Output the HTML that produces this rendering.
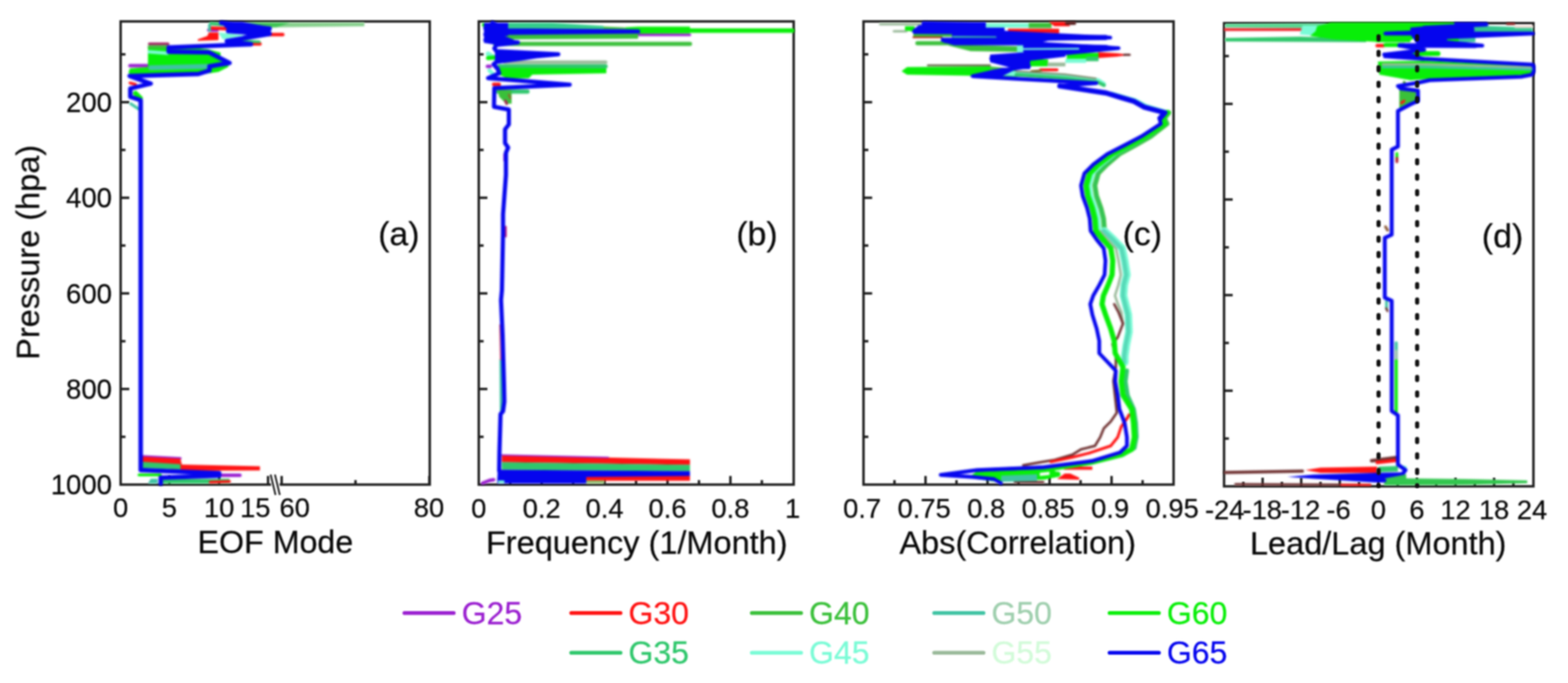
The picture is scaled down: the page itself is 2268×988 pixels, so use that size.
<!DOCTYPE html>
<html lang="en">
<head>
<meta charset="utf-8">
<title>Vertical profiles: EOF mode, frequency, correlation, lead/lag</title>
<style>
html,body{margin:0;padding:0;background:#ffffff;}
body{width:2268px;height:988px;overflow:hidden;font-family:"Liberation Sans",sans-serif;}
svg{display:block;}
text{stroke-width:0.3px;paint-order:stroke;}
</style>
</head>
<body>
<svg width="2268" height="988" viewBox="0 0 2268 988" font-family="'Liberation Sans', sans-serif">
<defs>
<clipPath id="clipa"><rect x="173.0" y="29.5" width="451.6" height="673"/></clipPath>
<clipPath id="clipb"><rect x="691.0" y="29.5" width="460.0" height="673"/></clipPath>
<clipPath id="clipc"><rect x="1247.5" y="29.5" width="453.0" height="673"/></clipPath>
<clipPath id="clipd"><rect x="1769.0" y="32.0" width="452.0" height="673.0"/></clipPath>
<filter id="bA" x="-2%" y="-2%" width="104%" height="104%" color-interpolation-filters="sRGB"><feGaussianBlur stdDeviation="1.0"/></filter>
<filter id="bB" x="-2%" y="-2%" width="104%" height="104%" color-interpolation-filters="sRGB"><feGaussianBlur stdDeviation="1.6"/></filter>
</defs>
<rect width="2268" height="988" fill="#ffffff"/>
<g id="axes" filter="url(#bA)">
<rect x="174.5" y="31" width="447.1" height="670" fill="none" stroke="#1d1d1d" stroke-width="3.5"/>
<line x1="174.5" y1="78.6" x2="181.5" y2="78.6" stroke="#1d1d1d" stroke-width="3.5"/>
<line x1="174.5" y1="147.8" x2="187.0" y2="147.8" stroke="#1d1d1d" stroke-width="3.5"/>
<line x1="174.5" y1="216.9" x2="181.5" y2="216.9" stroke="#1d1d1d" stroke-width="3.5"/>
<line x1="174.5" y1="286.1" x2="187.0" y2="286.1" stroke="#1d1d1d" stroke-width="3.5"/>
<line x1="174.5" y1="355.2" x2="181.5" y2="355.2" stroke="#1d1d1d" stroke-width="3.5"/>
<line x1="174.5" y1="424.4" x2="187.0" y2="424.4" stroke="#1d1d1d" stroke-width="3.5"/>
<line x1="174.5" y1="493.6" x2="181.5" y2="493.6" stroke="#1d1d1d" stroke-width="3.5"/>
<line x1="174.5" y1="562.7" x2="187.0" y2="562.7" stroke="#1d1d1d" stroke-width="3.5"/>
<line x1="174.5" y1="631.9" x2="181.5" y2="631.9" stroke="#1d1d1d" stroke-width="3.5"/>
<rect x="692.5" y="31" width="455.5" height="670" fill="none" stroke="#1d1d1d" stroke-width="3.5"/>
<line x1="692.5" y1="78.6" x2="699.5" y2="78.6" stroke="#1d1d1d" stroke-width="3.5"/>
<line x1="692.5" y1="147.8" x2="705.0" y2="147.8" stroke="#1d1d1d" stroke-width="3.5"/>
<line x1="692.5" y1="216.9" x2="699.5" y2="216.9" stroke="#1d1d1d" stroke-width="3.5"/>
<line x1="692.5" y1="286.1" x2="705.0" y2="286.1" stroke="#1d1d1d" stroke-width="3.5"/>
<line x1="692.5" y1="355.2" x2="699.5" y2="355.2" stroke="#1d1d1d" stroke-width="3.5"/>
<line x1="692.5" y1="424.4" x2="705.0" y2="424.4" stroke="#1d1d1d" stroke-width="3.5"/>
<line x1="692.5" y1="493.6" x2="699.5" y2="493.6" stroke="#1d1d1d" stroke-width="3.5"/>
<line x1="692.5" y1="562.7" x2="705.0" y2="562.7" stroke="#1d1d1d" stroke-width="3.5"/>
<line x1="692.5" y1="631.9" x2="699.5" y2="631.9" stroke="#1d1d1d" stroke-width="3.5"/>
<rect x="1249" y="31" width="448.5" height="670" fill="none" stroke="#1d1d1d" stroke-width="3.5"/>
<line x1="1249" y1="78.6" x2="1256" y2="78.6" stroke="#1d1d1d" stroke-width="3.5"/>
<line x1="1249" y1="147.8" x2="1261.5" y2="147.8" stroke="#1d1d1d" stroke-width="3.5"/>
<line x1="1249" y1="216.9" x2="1256" y2="216.9" stroke="#1d1d1d" stroke-width="3.5"/>
<line x1="1249" y1="286.1" x2="1261.5" y2="286.1" stroke="#1d1d1d" stroke-width="3.5"/>
<line x1="1249" y1="355.2" x2="1256" y2="355.2" stroke="#1d1d1d" stroke-width="3.5"/>
<line x1="1249" y1="424.4" x2="1261.5" y2="424.4" stroke="#1d1d1d" stroke-width="3.5"/>
<line x1="1249" y1="493.6" x2="1256" y2="493.6" stroke="#1d1d1d" stroke-width="3.5"/>
<line x1="1249" y1="562.7" x2="1261.5" y2="562.7" stroke="#1d1d1d" stroke-width="3.5"/>
<line x1="1249" y1="631.9" x2="1256" y2="631.9" stroke="#1d1d1d" stroke-width="3.5"/>
<rect x="1770.5" y="33.5" width="447.5" height="670.0" fill="none" stroke="#1d1d1d" stroke-width="3.5"/>
<line x1="1770.5" y1="81.1" x2="1777.5" y2="81.1" stroke="#1d1d1d" stroke-width="3.5"/>
<line x1="1770.5" y1="150.3" x2="1783.0" y2="150.3" stroke="#1d1d1d" stroke-width="3.5"/>
<line x1="1770.5" y1="219.4" x2="1777.5" y2="219.4" stroke="#1d1d1d" stroke-width="3.5"/>
<line x1="1770.5" y1="288.6" x2="1783.0" y2="288.6" stroke="#1d1d1d" stroke-width="3.5"/>
<line x1="1770.5" y1="357.8" x2="1777.5" y2="357.8" stroke="#1d1d1d" stroke-width="3.5"/>
<line x1="1770.5" y1="426.9" x2="1783.0" y2="426.9" stroke="#1d1d1d" stroke-width="3.5"/>
<line x1="1770.5" y1="496.1" x2="1777.5" y2="496.1" stroke="#1d1d1d" stroke-width="3.5"/>
<line x1="1770.5" y1="565.2" x2="1783.0" y2="565.2" stroke="#1d1d1d" stroke-width="3.5"/>
<line x1="1770.5" y1="634.4" x2="1777.5" y2="634.4" stroke="#1d1d1d" stroke-width="3.5"/>
<line x1="245.0" y1="701" x2="245.0" y2="688.5" stroke="#1d1d1d" stroke-width="3.5"/>
<line x1="317.0" y1="701" x2="317.0" y2="688.5" stroke="#1d1d1d" stroke-width="3.5"/>
<line x1="387.7" y1="701" x2="387.7" y2="688.5" stroke="#1d1d1d" stroke-width="3.5"/>
<line x1="407.4" y1="701" x2="407.4" y2="688.5" stroke="#1d1d1d" stroke-width="3.5"/>
<line x1="621.0" y1="701" x2="621.0" y2="688.5" stroke="#1d1d1d" stroke-width="3.5"/>
<line x1="514.2" y1="701" x2="514.2" y2="694.5" stroke="#1d1d1d" stroke-width="3.5"/>
<polygon points="390.5,686.5 403,686.5 406,716 393.5,716" fill="#ffffff"/>
<line x1="391.5" y1="686.5" x2="398.5" y2="716" stroke="#1d1d1d" stroke-width="2.6"/>
<line x1="397.7" y1="686.5" x2="404.7" y2="716" stroke="#1d1d1d" stroke-width="2.6"/>
<line x1="738.0" y1="701" x2="738.0" y2="694.5" stroke="#1d1d1d" stroke-width="3.5"/>
<line x1="783.5" y1="701" x2="783.5" y2="688.5" stroke="#1d1d1d" stroke-width="3.5"/>
<line x1="829.0" y1="701" x2="829.0" y2="694.5" stroke="#1d1d1d" stroke-width="3.5"/>
<line x1="874.5" y1="701" x2="874.5" y2="688.5" stroke="#1d1d1d" stroke-width="3.5"/>
<line x1="920.0" y1="701" x2="920.0" y2="694.5" stroke="#1d1d1d" stroke-width="3.5"/>
<line x1="965.5" y1="701" x2="965.5" y2="688.5" stroke="#1d1d1d" stroke-width="3.5"/>
<line x1="1011.0" y1="701" x2="1011.0" y2="694.5" stroke="#1d1d1d" stroke-width="3.5"/>
<line x1="1056.5" y1="701" x2="1056.5" y2="688.5" stroke="#1d1d1d" stroke-width="3.5"/>
<line x1="1102.0" y1="701" x2="1102.0" y2="694.5" stroke="#1d1d1d" stroke-width="3.5"/>
<line x1="1293.8" y1="701" x2="1293.8" y2="694.5" stroke="#1d1d1d" stroke-width="3.5"/>
<line x1="1338.7" y1="701" x2="1338.7" y2="688.5" stroke="#1d1d1d" stroke-width="3.5"/>
<line x1="1383.5" y1="701" x2="1383.5" y2="694.5" stroke="#1d1d1d" stroke-width="3.5"/>
<line x1="1428.4" y1="701" x2="1428.4" y2="688.5" stroke="#1d1d1d" stroke-width="3.5"/>
<line x1="1473.2" y1="701" x2="1473.2" y2="694.5" stroke="#1d1d1d" stroke-width="3.5"/>
<line x1="1518.1" y1="701" x2="1518.1" y2="688.5" stroke="#1d1d1d" stroke-width="3.5"/>
<line x1="1563.0" y1="701" x2="1563.0" y2="694.5" stroke="#1d1d1d" stroke-width="3.5"/>
<line x1="1607.8" y1="701" x2="1607.8" y2="688.5" stroke="#1d1d1d" stroke-width="3.5"/>
<line x1="1652.7" y1="701" x2="1652.7" y2="694.5" stroke="#1d1d1d" stroke-width="3.5"/>
<line x1="1798.4" y1="703.5" x2="1798.4" y2="697.0" stroke="#1d1d1d" stroke-width="3.5"/>
<line x1="1826.3" y1="703.5" x2="1826.3" y2="691.0" stroke="#1d1d1d" stroke-width="3.5"/>
<line x1="1854.2" y1="703.5" x2="1854.2" y2="697.0" stroke="#1d1d1d" stroke-width="3.5"/>
<line x1="1882.1" y1="703.5" x2="1882.1" y2="691.0" stroke="#1d1d1d" stroke-width="3.5"/>
<line x1="1910.0" y1="703.5" x2="1910.0" y2="697.0" stroke="#1d1d1d" stroke-width="3.5"/>
<line x1="1937.9" y1="703.5" x2="1937.9" y2="691.0" stroke="#1d1d1d" stroke-width="3.5"/>
<line x1="1965.8" y1="703.5" x2="1965.8" y2="697.0" stroke="#1d1d1d" stroke-width="3.5"/>
<line x1="1993.7" y1="703.5" x2="1993.7" y2="691.0" stroke="#1d1d1d" stroke-width="3.5"/>
<line x1="2021.6" y1="703.5" x2="2021.6" y2="697.0" stroke="#1d1d1d" stroke-width="3.5"/>
<line x1="2049.5" y1="703.5" x2="2049.5" y2="691.0" stroke="#1d1d1d" stroke-width="3.5"/>
<line x1="2077.4" y1="703.5" x2="2077.4" y2="697.0" stroke="#1d1d1d" stroke-width="3.5"/>
<line x1="2105.3" y1="703.5" x2="2105.3" y2="691.0" stroke="#1d1d1d" stroke-width="3.5"/>
<line x1="2133.2" y1="703.5" x2="2133.2" y2="697.0" stroke="#1d1d1d" stroke-width="3.5"/>
<line x1="2161.1" y1="703.5" x2="2161.1" y2="691.0" stroke="#1d1d1d" stroke-width="3.5"/>
<line x1="2189.0" y1="703.5" x2="2189.0" y2="697.0" stroke="#1d1d1d" stroke-width="3.5"/>
</g>
<g id="curves" filter="url(#bB)">
<g clip-path="url(#clipa)">
<polygon points="338.0,32.5 527.0,32.5 527.0,38.0 440.0,39.0 338.0,40.5" fill="#86d08c" />
<polygon points="338.0,32.5 420.0,32.5 400.0,39.5 338.0,40.5" fill="#40c455" />
<polyline points="188.0,95.0 214.0,95.0" fill="none" stroke="#9a1fd0" stroke-width="5" stroke-linejoin="round" stroke-linecap="round" />
<polyline points="302.0,43.5 314.0,43.5" fill="none" stroke="#9a1fd0" stroke-width="5" stroke-linejoin="round" stroke-linecap="round" />
<polyline points="216.0,63.5 243.0,63.5" fill="none" stroke="#a02060" stroke-width="4" stroke-linejoin="round" stroke-linecap="round" />
<polygon points="286.0,57.0 300.0,52.0 302.0,47.0 316.0,47.0 316.0,58.0 286.0,59.0" fill="#ff1212" />
<polyline points="304.0,40.5 328.0,41.5" fill="none" stroke="#ff1212" stroke-width="5" stroke-linejoin="round" stroke-linecap="round" />
<polyline points="360.0,63.5 376.0,63.5" fill="none" stroke="#ff1212" stroke-width="5" stroke-linejoin="round" stroke-linecap="round" />
<polyline points="385.0,50.0 409.0,50.0" fill="none" stroke="#ff1212" stroke-width="5" stroke-linejoin="round" stroke-linecap="round" />
<polyline points="188.0,120.0 196.0,122.0" fill="none" stroke="#ff1212" stroke-width="4" stroke-linejoin="round" stroke-linecap="round" />
<polygon points="215.0,66.0 243.0,66.0 300.0,71.0 319.0,76.0 319.0,82.0 332.0,91.0 330.0,97.0 316.0,104.0 290.0,108.0 188.0,111.0 186.0,104.0 188.0,99.0 214.0,97.0 214.0,70.0" fill="#08ee08" />
<polyline points="216.0,68.0 244.0,68.0" fill="none" stroke="#3ac03a" stroke-width="5" stroke-linejoin="round" stroke-linecap="round" />
<polyline points="216.0,75.0 242.0,77.0" fill="none" stroke="#7afbd6" stroke-width="5" stroke-linejoin="round" stroke-linecap="round" />
<polyline points="218.0,98.0 300.0,96.0" fill="none" stroke="#3fc3a3" stroke-width="7" stroke-linejoin="round" stroke-linecap="round" />
<polyline points="305.0,34.0 330.0,36.0" fill="none" stroke="#2fc76c" stroke-width="5" stroke-linejoin="round" stroke-linecap="round" />
<polyline points="303.0,36.0 303.0,44.0" fill="none" stroke="#3fc3a3" stroke-width="4" stroke-linejoin="round" stroke-linecap="round" />
<polygon points="316.0,47.0 357.0,51.0 322.0,57.0" fill="#7afbd6" />
<polyline points="345.0,59.0 375.0,60.5" fill="none" stroke="#2fc76c" stroke-width="4" stroke-linejoin="round" stroke-linecap="round" />
<polyline points="196.0,135.0 203.0,142.0" fill="none" stroke="#08ee08" stroke-width="7" stroke-linejoin="round" stroke-linecap="round" />
<polyline points="189.0,150.0 201.0,158.0" fill="none" stroke="#3fc3a3" stroke-width="4" stroke-linejoin="round" stroke-linecap="round" />
<polyline points="204.0,660.0 261.0,663.0" fill="none" stroke="#9a1fd0" stroke-width="3.5" stroke-linejoin="round" stroke-linecap="round" />
<polyline points="318.0,687.5 347.0,687.5" fill="none" stroke="#9a1fd0" stroke-width="5" stroke-linejoin="round" stroke-linecap="round" />
<polygon points="204.0,660.5 261.0,663.5 263.0,672.0 376.0,674.5 376.0,680.5 262.0,681.0 204.0,672.0" fill="#ff1212" />
<polygon points="205.0,668.0 261.0,671.5 261.0,679.0 205.0,677.0" fill="#2fc76c" />
<polyline points="201.0,687.0 232.0,687.0" fill="none" stroke="#08ee08" stroke-width="4" stroke-linejoin="round" stroke-linecap="round" />
<polygon points="214.0,699.5 218.0,692.5 228.0,692.5 228.0,699.5" fill="#3fc3a3" />
<polygon points="234.0,693.0 332.0,692.5 332.0,699.5 234.0,699.5" fill="#2fc76c" />
<polyline points="304.0,697.5 332.0,696.5" fill="none" stroke="#ff1212" stroke-width="4" stroke-linejoin="round" stroke-linecap="round" />
<polyline points="320.0,33.0 390.0,41.5 330.0,45.0 390.0,49.0 328.0,59.5 363.0,64.0 244.0,68.6 244.0,74.7 302.0,75.7 332.0,91.0 303.0,96.0 303.0,102.0 287.0,107.0 187.5,110.0 218.0,121.0 188.5,128.0 188.5,140.0 203.5,145.0 203.5,680.0 317.0,684.5 317.0,688.0 232.5,691.0 232.5,700.0" fill="none" stroke="#0505ee" stroke-width="6.4" stroke-linejoin="round" stroke-linecap="round" />
<polygon points="318.0,31.5 350.0,31.5 390.0,39.0 392.0,45.0 388.0,51.0 350.0,52.0 357.0,50.0 334.0,46.0 326.0,40.0" fill="#0505ee" />
</g>
<g clip-path="url(#clipb)">
<polygon points="700.0,33.0 740.0,33.0 900.0,39.5 923.0,41.0 923.0,56.0 700.0,56.0" fill="#3ac03a" />
<polygon points="734.0,33.0 800.0,33.0 873.0,37.5 873.0,41.5 734.0,41.5" fill="#34cd8c" />
<polygon points="905.0,39.5 923.0,38.5 998.0,38.5 998.0,48.5 923.0,49.0 905.0,46.0" fill="#08ee08" />
<polyline points="998.0,44.3 1146.0,44.3" fill="none" stroke="#08ee08" stroke-width="6.6" stroke-linejoin="round" stroke-linecap="round" />
<polyline points="923.0,50.5 998.0,50.5" fill="none" stroke="#9a1fd0" stroke-width="3.5" stroke-linejoin="round" stroke-linecap="round" />
<polygon points="726.0,48.0 923.0,49.0 923.0,56.0 726.0,57.0" fill="#3ac03a" />
<polyline points="716.0,63.5 998.0,63.5" fill="none" stroke="#3ac03a" stroke-width="6" stroke-linejoin="round" stroke-linecap="round" />
<polyline points="700.0,36.0 706.0,40.0" fill="none" stroke="#08ee08" stroke-width="6" stroke-linejoin="round" stroke-linecap="round" />
<polyline points="730.0,90.0 876.0,90.0" fill="none" stroke="#9ab99a" stroke-width="5" stroke-linejoin="round" stroke-linecap="round" />
<polyline points="722.0,96.0 876.0,96.0" fill="none" stroke="#2fc76c" stroke-width="6" stroke-linejoin="round" stroke-linecap="round" />
<polygon points="722.0,98.0 877.0,99.0 877.0,106.0 770.0,108.0 765.0,113.0 735.0,114.0 722.0,108.0" fill="#08ee08" />
<polyline points="705.0,96.0 709.0,96.0" fill="none" stroke="#9a1fd0" stroke-width="5" stroke-linejoin="round" stroke-linecap="round" />
<polyline points="706.0,78.0 716.0,84.0" fill="none" stroke="#7afbd6" stroke-width="7" stroke-linejoin="round" stroke-linecap="round" />
<polyline points="706.0,84.0 730.0,82.0" fill="none" stroke="#08ee08" stroke-width="6" stroke-linejoin="round" stroke-linecap="round" />
<polyline points="708.0,102.0 714.0,108.0" fill="none" stroke="#7afbd6" stroke-width="6" stroke-linejoin="round" stroke-linecap="round" />
<polyline points="714.0,122.0 722.0,122.0" fill="none" stroke="#ff1212" stroke-width="5" stroke-linejoin="round" stroke-linecap="round" />
<polyline points="720.0,132.5 763.0,132.5" fill="none" stroke="#2fc76c" stroke-width="6" stroke-linejoin="round" stroke-linecap="round" />
<polygon points="720.0,130.0 740.0,130.0 740.0,150.0 732.0,150.0 722.0,140.0" fill="#3ac03a" />
<polyline points="731.0,146.0 733.0,150.0" fill="none" stroke="#a03050" stroke-width="4" stroke-linejoin="round" stroke-linecap="round" />
<polyline points="736.0,137.0 738.0,142.0" fill="none" stroke="#8a6a30" stroke-width="3" stroke-linejoin="round" stroke-linecap="round" />
<polyline points="729.5,223.0 729.5,232.0" fill="none" stroke="#9a1fd0" stroke-width="3" stroke-linejoin="round" stroke-linecap="round" />
<polyline points="733.0,222.0 733.0,232.0" fill="none" stroke="#7afbd6" stroke-width="3" stroke-linejoin="round" stroke-linecap="round" />
<polyline points="731.5,328.0 731.5,342.0" fill="none" stroke="#c0207a" stroke-width="3" stroke-linejoin="round" stroke-linecap="round" />
<polyline points="724.5,520.0 725.0,596.0" fill="none" stroke="#3fc3a3" stroke-width="4" stroke-linejoin="round" stroke-linecap="round" />
<polyline points="723.0,470.0 724.0,520.0" fill="none" stroke="#e06070" stroke-width="2" stroke-linejoin="round" stroke-linecap="round" />
<polygon points="726.0,658.3 998.0,664.5 998.0,672.5 726.0,668.5" fill="#ff1212" />
<polyline points="726.0,658.3 880.0,661.8" fill="none" stroke="#9a1fd0" stroke-width="2" stroke-linejoin="round" stroke-linecap="round" />
<polygon points="726.0,668.5 998.0,672.5 998.0,681.5 726.0,679.5" fill="#2fc76c" />
<polygon points="848.0,688.0 998.0,688.0 998.0,695.5 848.0,695.5" fill="#ff1212" />
<polygon points="848.0,695.0 874.0,695.0 874.0,699.5 848.0,699.5" fill="#8fc070" />
<polyline points="698.0,699.0 708.0,695.0 714.0,694.0" fill="none" stroke="#9a1fd0" stroke-width="5" stroke-linejoin="round" stroke-linecap="round" />
<polygon points="720.0,679.5 998.0,681.5 998.0,688.5 848.0,690.0 848.0,699.5 719.0,699.5" fill="#0505ee" />
<polyline points="722.0,697.0 728.0,697.0" fill="none" stroke="#7afbd6" stroke-width="4" stroke-linejoin="round" stroke-linecap="round" />
<polyline points="712.0,33.0 722.0,37.0 702.0,41.0 735.0,44.0 923.0,45.5 735.0,47.5 702.0,50.0 712.0,55.0 702.0,58.0 749.0,61.5 718.0,65.0 715.0,70.0 718.0,74.0 807.5,78.5 775.0,81.5 755.0,84.5 718.0,89.5 714.0,93.0 720.0,100.0 722.0,106.0 706.0,113.0 824.0,122.5 715.0,127.5 714.5,154.5 736.0,158.5 736.0,180.0 730.5,187.0 730.5,207.0 735.0,213.5 731.8,221.0 731.8,253.0 727.6,310.0 727.6,338.0 726.0,420.0 724.7,434.0 727.0,485.0 729.0,556.0 729.5,581.0 727.6,595.0 724.0,599.0 722.4,655.0 722.0,681.0" fill="none" stroke="#0505ee" stroke-width="6" stroke-linejoin="round" stroke-linecap="round" />
<polygon points="700.0,33.0 735.0,33.0 735.0,52.0 700.0,52.0" fill="#0505ee" />
<polygon points="700.0,52.0 730.0,52.0 749.0,60.0 749.0,63.0 725.0,66.0 700.0,62.0" fill="#0505ee" />
<polygon points="716.0,72.5 760.0,75.5 807.0,77.5 807.0,79.5 760.0,84.0 735.0,87.5 716.0,89.5" fill="#0505ee" />
</g>
<g clip-path="url(#clipc)">
<polyline points="1273.0,35.0 1331.0,35.0" fill="none" stroke="#9ab99a" stroke-width="3.5" stroke-linejoin="round" stroke-linecap="round" />
<polyline points="1293.0,45.3 1311.0,45.3" fill="none" stroke="#9ab99a" stroke-width="3.5" stroke-linejoin="round" stroke-linecap="round" />
<polygon points="1309.0,38.0 1323.0,38.0 1323.0,46.0 1309.0,44.0" fill="#08ee08" />
<polygon points="1426.0,33.5 1490.0,33.5 1490.0,40.0 1426.0,40.0" fill="#7afbd6" />
<polygon points="1488.0,33.0 1521.0,33.0 1521.0,40.5 1488.0,40.5" fill="#3ac03a" />
<polygon points="1517.0,31.5 1543.0,31.5 1548.0,38.0 1525.0,38.0" fill="#ff1212" />
<polyline points="1543.0,33.5 1554.0,33.5" fill="none" stroke="#5a2020" stroke-width="5" stroke-linejoin="round" stroke-linecap="round" />
<polygon points="1458.0,41.5 1532.0,41.5 1532.0,48.0 1458.0,46.0" fill="#ff1212" />
<polygon points="1321.0,49.0 1377.0,49.0 1377.0,53.0 1321.0,53.0" fill="#3ac03a" />
<polyline points="1321.0,54.0 1362.0,54.0" fill="none" stroke="#b03018" stroke-width="2.5" stroke-linejoin="round" stroke-linecap="round" />
<polyline points="1327.0,62.5 1372.0,62.5" fill="none" stroke="#3ac03a" stroke-width="6" stroke-linejoin="round" stroke-linecap="round" />
<polygon points="1372.0,60.0 1404.0,65.0 1471.0,67.0 1471.0,75.0 1404.0,74.0 1372.0,66.0" fill="#3ac03a" />
<polygon points="1471.0,64.0 1560.0,66.0 1560.0,73.0 1471.0,76.0" fill="#7afbd6" />
<polygon points="1588.0,75.5 1615.0,77.0 1634.0,79.3 1615.0,82.0 1588.0,84.0" fill="#ff1212" />
<polyline points="1626.0,79.3 1634.0,79.3" fill="none" stroke="#5a2020" stroke-width="3" stroke-linejoin="round" stroke-linecap="round" />
<polygon points="1543.0,76.5 1589.0,76.5 1589.0,86.0 1543.0,86.0" fill="#08ee08" />
<polygon points="1571.0,82.0 1589.0,82.0 1589.0,88.5 1571.0,88.5" fill="#2fc76c" />
<polygon points="1541.0,85.0 1571.0,85.0 1571.0,91.0 1541.0,91.0" fill="#7afbd6" />
<polygon points="1473.0,86.0 1516.0,86.0 1516.0,96.0 1473.0,96.0" fill="#08ee08" />
<polygon points="1515.0,90.5 1541.0,90.5 1541.0,96.0 1515.0,96.0" fill="#9ab99a" />
<polyline points="1505.0,101.0 1529.0,101.0" fill="none" stroke="#ff1212" stroke-width="4" stroke-linejoin="round" stroke-linecap="round" />
<polyline points="1492.0,103.0 1506.0,102.0" fill="none" stroke="#7a6a20" stroke-width="3" stroke-linejoin="round" stroke-linecap="round" />
<polyline points="1342.0,94.5 1432.0,94.5" fill="none" stroke="#5a5a3a" stroke-width="2.5" stroke-linejoin="round" stroke-linecap="round" />
<polygon points="1304.0,103.0 1312.0,97.0 1432.0,96.0 1432.0,110.0 1312.0,108.0" fill="#08ee08" />
<polygon points="1432.0,96.0 1470.0,100.0 1470.0,112.0 1432.0,110.0" fill="#3ac03a" />
<polygon points="1447.0,104.0 1490.0,104.0 1490.0,111.0 1447.0,111.0" fill="#2fc76c" />
<polyline points="1448.0,105.0 1530.0,110.5 1588.0,116.5 1596.0,121.5" fill="none" stroke="#7afbd6" stroke-width="7" stroke-linejoin="round" stroke-linecap="round" />
<polyline points="1608.0,135.0 1622.0,139.0 1643.0,145.0 1658.0,153.0 1688.0,162.0" fill="none" stroke="#7afbd6" stroke-width="5" stroke-linejoin="round" stroke-linecap="round" />
<polyline points="1470.0,108.0 1540.0,113.0 1588.0,119.0 1597.0,123.5" fill="none" stroke="#2fc76c" stroke-width="5" stroke-linejoin="round" stroke-linecap="round" />
<polyline points="1470.0,103.0 1540.0,107.5 1585.0,113.5" fill="none" stroke="#7a8a6a" stroke-width="2.5" stroke-linejoin="round" stroke-linecap="round" />
<polyline points="1690.6,163.0 1684.2,171.0 1688.0,179.0 1664.1,197.4 1642.3,210.0 1618.9,222.8 1601.0,238.0 1588.6,250.6 1583.6,268.3 1586.0,283.5 1592.4,301.2 1596.2,316.4 1597.5,334.0" fill="none" stroke="#3ac03a" stroke-width="7" stroke-linejoin="round" stroke-linecap="round" />
<polyline points="1690.6,163.0 1684.2,171.0 1688.0,179.0 1664.1,197.4 1642.3,210.0 1618.9,222.8 1601.0,238.0 1588.6,250.6 1583.6,268.3 1586.0,283.5 1592.4,301.2 1596.2,316.4 1597.5,334.0" fill="none" stroke="#2fc76c" stroke-width="4" stroke-linejoin="round" stroke-linecap="round" opacity="0.6"/>
<polyline points="1597.5,334.0 1611.0,346.8 1623.1,359.4 1626.8,377.0 1630.0,397.4 1626.2,412.5 1625.1,427.7 1632.0,455.0 1633.0,480.0 1629.0,500.0 1627.0,515.0 1627.0,524.0" fill="none" stroke="#7afbd6" stroke-width="11" stroke-linejoin="round" stroke-linecap="round" />
<polyline points="1596.5,334.0 1610.0,346.8 1622.1,359.4 1625.8,377.0 1629.0,397.4 1625.2,412.5 1624.1,427.7 1631.0,455.0 1632.0,480.0 1628.0,500.0 1626.0,515.0 1626.0,524.0" fill="none" stroke="#3fc3a3" stroke-width="6" stroke-linejoin="round" stroke-linecap="round" opacity="0.6"/>
<polyline points="1689.4,163.0 1682.5,171.0 1685.5,179.0 1659.4,197.4 1636.8,210.0 1612.8,222.8 1594.1,238.0 1581.6,250.6 1576.6,268.3 1579.0,283.5 1585.4,301.2 1589.2,316.4 1590.5,334.0" fill="none" stroke="#7afbd6" stroke-width="5" stroke-linejoin="round" stroke-linecap="round" />
<polyline points="1590.5,334.0 1602.4,346.8 1614.1,359.4 1617.8,377.0 1621.2,397.4 1617.5,412.5 1612.7,427.7 1617.0,440.0 1622.0,452.0 1624.0,470.0" fill="none" stroke="#9ab99a" stroke-width="3.5" stroke-linejoin="round" stroke-linecap="round" />
<polyline points="1611.6,440.0 1618.0,452.0 1624.3,468.0 1616.7,488.0 1609.0,498.0 1614.0,512.0 1614.0,531.0 1610.4,551.0 1613.0,575.0 1615.4,597.0 1606.6,609.7 1596.5,619.8 1591.4,632.4 1583.8,645.0 1563.6,650.0 1551.0,657.7 1525.6,665.3 1502.8,669.0 1480.0,673.0" fill="none" stroke="#6e3030" stroke-width="3.5" stroke-linejoin="round" stroke-linecap="round" />
<polyline points="1633.0,600.0 1631.0,604.0 1621.8,617.2 1616.7,632.4 1606.6,645.0 1576.2,655.2 1551.0,661.5 1520.0,668.0" fill="none" stroke="#ff1212" stroke-width="4" stroke-linejoin="round" stroke-linecap="round" />
<polygon points="1539.0,675.0 1580.0,675.0 1580.0,679.5 1539.0,679.5" fill="#ff1212" />
<polygon points="1529.0,693.0 1540.0,685.0 1548.0,685.0 1561.0,691.0 1561.0,694.0" fill="#ff1212" />
<polyline points="1468.0,697.5 1509.0,697.5" fill="none" stroke="#6e3030" stroke-width="3.5" stroke-linejoin="round" stroke-linecap="round" />
<polyline points="1630.0,536.0 1628.0,552.0 1631.0,572.0 1640.0,592.0 1643.0,612.0 1644.0,632.0 1641.0,648.0 1624.0,658.0 1580.0,669.0 1520.0,678.0 1420.0,684.0" fill="none" stroke="#2fc76c" stroke-width="6" stroke-linejoin="round" stroke-linecap="round" />
<polyline points="1688.4,163.0 1681.5,171.0 1684.2,179.0 1656.6,197.4 1633.2,210.0 1608.4,222.8 1588.7,238.0 1576.1,250.6 1571.1,268.3 1573.5,283.5 1579.9,301.2 1583.7,316.4 1585.0,334.0 1595.8,346.8" fill="none" stroke="#08ee08" stroke-width="8" stroke-linejoin="round" stroke-linecap="round" />
<polyline points="1595.8,346.8 1606.7,359.4 1609.5,377.0 1608.6,397.4 1602.7,412.5 1596.0,427.7 1594.0,440.0 1599.0,455.0 1606.6,475.5 1611.6,493.0 1613.0,511.0 1624.3,531.0 1621.8,551.5 1624.3,571.7 1637.0,592.0 1639.5,612.0 1640.7,632.4 1637.0,650.0 1621.8,657.7 1576.0,669.0 1525.6,676.7 1420.0,683.0 1414.0,686.0 1440.0,692.0 1510.0,690.0 1530.0,686.0" fill="none" stroke="#08ee08" stroke-width="7.5" stroke-linejoin="round" stroke-linecap="round" />
<polyline points="1688.4,163.0 1681.5,171.0 1684.2,179.0 1656.6,197.4 1633.2,210.0 1608.4,222.8 1588.7,238.0 1576.1,250.6 1571.1,268.3 1573.5,283.5 1579.9,301.2 1583.7,316.4 1585.0,334.0 1595.8,346.8 1606.7,359.4 1609.5,377.0 1608.6,397.4 1602.7,412.5 1596.0,427.7 1594.0,440.0 1599.0,455.0 1606.6,475.5 1611.6,493.0 1613.0,511.0 1624.3,531.0 1621.8,551.5 1624.3,571.7 1637.0,592.0 1639.5,612.0 1640.7,632.4 1637.0,650.0 1621.8,657.7 1576.0,669.0 1525.6,676.7 1420.0,683.0 1414.0,686.0 1440.0,692.0 1510.0,690.0 1530.0,686.0" fill="none" stroke="#08ee08" stroke-width="6" stroke-linejoin="round" stroke-linecap="round" />
<polygon points="1413.0,682.0 1520.0,677.0 1530.0,684.0 1520.0,692.0 1440.0,697.0 1400.0,691.0" fill="#08ee08" />
<polygon points="1448.0,688.0 1500.0,686.0 1500.0,696.0 1448.0,697.0" fill="#3fc3a3" />
<polygon points="1504.0,684.0 1518.0,682.5 1518.0,687.0 1504.0,688.5" fill="#ffffff" />
<polyline points="1336.0,33.5 1421.5,35.0 1330.0,39.0 1322.0,45.3 1450.0,47.0 1606.0,54.4 1450.0,57.0 1366.7,59.5 1480.0,62.0 1618.0,69.6 1541.0,77.0 1433.6,84.8 1470.0,90.0 1488.4,96.0 1440.0,103.0 1407.0,110.2 1470.0,114.0 1585.8,120.3 1533.0,124.4 1600.0,134.5 1620.0,140.6 1640.5,146.7 1654.7,154.8 1685.0,163.0 1677.0,171.0 1679.0,179.0 1650.7,197.4 1626.8,210.0 1601.5,222.8 1581.3,238.0 1568.6,250.6 1563.6,268.3 1566.0,283.5 1572.4,301.2 1576.2,316.4 1577.5,334.0 1586.3,346.8 1596.5,359.4 1599.0,377.0 1597.7,397.4 1590.0,412.5 1581.3,427.7 1577.0,440.0 1580.0,455.3 1586.3,475.5 1590.0,493.0 1590.0,511.0 1614.0,536.3 1613.0,551.5 1616.7,571.7 1619.2,592.0 1626.8,612.2 1630.0,632.4 1630.0,645.0 1620.0,654.5 1579.7,666.8 1508.7,676.0 1413.4,680.0 1360.6,687.0 1407.3,690.0 1437.7,693.0 1447.8,699.0" fill="none" stroke="#0505ee" stroke-width="5.4" stroke-linejoin="round" stroke-linecap="round" />
<polyline points="1533.0,124.4 1600.0,134.5 1620.0,140.6 1640.5,146.7 1654.7,154.8 1685.0,163.0 1678.0,171.0" fill="none" stroke="#0505ee" stroke-width="7.5" stroke-linejoin="round" stroke-linecap="round" />
<polygon points="1333.0,32.0 1426.0,32.0 1426.0,40.0 1380.0,42.0 1333.0,40.0" fill="#0505ee" />
<polygon points="1321.0,42.0 1330.0,40.0 1453.0,40.0 1453.0,50.0 1321.0,49.0" fill="#0505ee" />
<polygon points="1377.0,47.0 1500.0,47.0 1500.0,56.0 1377.0,55.0" fill="#0505ee" />
<polyline points="1379.0,53.5 1440.0,54.0" fill="none" stroke="#3fc3a3" stroke-width="3" stroke-linejoin="round" stroke-linecap="round" />
<polygon points="1361.0,54.5 1490.0,54.5 1520.0,58.0 1490.0,65.5 1380.0,65.5 1361.0,60.0" fill="#0505ee" />
<polygon points="1470.0,50.0 1600.0,50.5 1607.0,54.4 1600.0,58.0 1470.0,59.0" fill="#0505ee" />
<polygon points="1480.0,62.5 1600.0,65.0 1619.0,69.5 1592.0,73.7 1541.0,75.0 1541.0,81.5 1490.0,82.0 1480.0,75.0" fill="#0505ee" />
<polyline points="1475.0,71.0 1560.0,70.5" fill="none" stroke="#7afbd6" stroke-width="2.5" stroke-linejoin="round" stroke-linecap="round" />
<polygon points="1432.0,79.0 1490.0,75.0 1541.0,75.0 1541.0,82.0 1490.0,88.0 1490.0,100.0 1470.0,100.0 1432.0,90.0" fill="#0505ee" />
<polygon points="1402.0,111.0 1432.0,103.0 1450.0,98.0 1470.0,100.0 1450.0,110.0 1420.0,113.0" fill="#0505ee" />
<polygon points="1413.0,678.0 1508.0,673.5 1508.0,678.5 1413.0,682.5" fill="#0505ee" />
</g>
<g clip-path="url(#clipd)">
<polygon points="1772.0,34.5 1918.0,33.5 1918.0,41.0 1772.0,39.5" fill="#55d890" />
<polyline points="1772.0,42.8 1888.0,42.8" fill="none" stroke="#ee2028" stroke-width="4" stroke-linejoin="round" stroke-linecap="round" />
<polygon points="1884.0,37.0 1912.0,37.0 1908.0,52.0 1880.0,50.0" fill="#7afbd6" />
<polygon points="1772.0,55.0 1880.0,53.0 1976.0,56.0 1976.0,61.0 1772.0,60.0" fill="#2fc76c" />
<polygon points="1905.0,38.0 1925.0,32.5 2110.0,32.5 2110.0,40.0 2050.0,48.0 2042.0,58.0 1990.0,60.5 1930.0,57.0 1895.0,52.0 1903.0,45.0" fill="#08ee08" />
<polygon points="1990.0,50.0 2040.0,50.0 2040.0,61.0 1990.0,61.0" fill="#08ee08" />
<polygon points="2110.0,36.0 2217.0,40.0 2217.0,47.0 2110.0,46.0" fill="#35c78f" />
<polyline points="2180.0,34.5 2190.0,34.5" fill="none" stroke="#b03030" stroke-width="3" stroke-linejoin="round" stroke-linecap="round" />
<polyline points="2192.0,38.5 2216.0,38.5" fill="none" stroke="#f4dcd6" stroke-width="4" stroke-linejoin="round" stroke-linecap="round" />
<polygon points="2093.0,52.0 2134.0,52.0 2134.0,61.0 2093.0,61.0" fill="#3fc3a3" />
<polygon points="2093.0,52.0 2110.0,52.0 2110.0,61.0 2093.0,61.0" fill="#08ee08" />
<polyline points="1992.0,66.0 2001.0,66.0" fill="none" stroke="#ff1212" stroke-width="5" stroke-linejoin="round" stroke-linecap="round" />
<polyline points="2004.0,65.0 2030.0,65.0" fill="none" stroke="#08ee08" stroke-width="6" stroke-linejoin="round" stroke-linecap="round" />
<polyline points="2036.0,77.4 2080.0,77.4" fill="none" stroke="#08ee08" stroke-width="7" stroke-linejoin="round" stroke-linecap="round" />
<polygon points="1993.0,89.0 2060.0,88.0 2217.0,95.0 2217.0,108.0 2068.0,114.0 2040.0,116.0 1995.0,108.0" fill="#08ee08" />
<polyline points="2000.0,93.0 2060.0,93.0 2215.0,97.5" fill="none" stroke="#9ab99a" stroke-width="3.5" stroke-linejoin="round" stroke-linecap="round" />
<polyline points="2000.0,97.0 2060.0,97.0 2215.0,100.5" fill="none" stroke="#3fc3a3" stroke-width="3.5" stroke-linejoin="round" stroke-linecap="round" />
<polygon points="2024.0,128.0 2048.0,131.0 2048.0,148.0 2040.0,153.0 2024.0,158.0" fill="#3ac03a" />
<polyline points="2026.0,127.0 2046.0,130.0" fill="none" stroke="#707a30" stroke-width="3" stroke-linejoin="round" stroke-linecap="round" />
<polyline points="2027.0,149.0 2031.0,146.0" fill="none" stroke="#ff1212" stroke-width="3.5" stroke-linejoin="round" stroke-linecap="round" />
<polyline points="2031.0,119.0 2033.0,122.0" fill="none" stroke="#40a020" stroke-width="4" stroke-linejoin="round" stroke-linecap="round" />
<polyline points="2020.5,222.0 2020.5,228.0" fill="none" stroke="#08ee08" stroke-width="4" stroke-linejoin="round" stroke-linecap="round" />
<polyline points="2020.5,229.0 2020.5,234.0" fill="none" stroke="#b02030" stroke-width="4" stroke-linejoin="round" stroke-linecap="round" />
<polyline points="2004.0,328.0 2007.0,333.0" fill="none" stroke="#8a5a3a" stroke-width="4" stroke-linejoin="round" stroke-linecap="round" />
<polyline points="2005.5,436.0 2005.5,447.0" fill="none" stroke="#3fc3a3" stroke-width="4" stroke-linejoin="round" stroke-linecap="round" />
<polyline points="2005.0,446.0 2007.0,450.0" fill="none" stroke="#6e3030" stroke-width="3" stroke-linejoin="round" stroke-linecap="round" />
<polyline points="2019.5,496.0 2019.5,520.0" fill="none" stroke="#3fc3a3" stroke-width="4.5" stroke-linejoin="round" stroke-linecap="round" />
<polyline points="2019.5,508.0 2019.5,522.0" fill="none" stroke="#a0c0b0" stroke-width="4.5" stroke-linejoin="round" stroke-linecap="round" />
<polyline points="2019.5,522.0 2019.5,596.0" fill="none" stroke="#08ee08" stroke-width="4.5" stroke-linejoin="round" stroke-linecap="round" />
<polyline points="1772.0,683.5 1884.0,681.5" fill="none" stroke="#6e3030" stroke-width="4.5" stroke-linejoin="round" stroke-linecap="round" />
<polygon points="1888.0,680.0 1910.0,676.5 1992.0,675.0 1992.0,684.0 1910.0,684.0" fill="#ff1212" />
<polyline points="1984.0,666.5 2019.0,662.0" fill="none" stroke="#6e3030" stroke-width="5" stroke-linejoin="round" stroke-linecap="round" />
<polyline points="1992.0,669.0 2019.0,666.0" fill="none" stroke="#ff1212" stroke-width="5" stroke-linejoin="round" stroke-linecap="round" />
<polygon points="1994.0,675.0 2022.0,674.0 2022.0,682.0 1994.0,683.0" fill="#2fc76c" />
<polyline points="2027.0,675.0 2033.0,676.0" fill="none" stroke="#7afbd6" stroke-width="4" stroke-linejoin="round" stroke-linecap="round" />
<polyline points="1787.0,700.5 1982.0,701.5" fill="none" stroke="#6e3030" stroke-width="3.5" stroke-linejoin="round" stroke-linecap="round" />
<polyline points="1940.0,701.5 1982.0,701.5" fill="none" stroke="#ff1212" stroke-width="3" stroke-linejoin="round" stroke-linecap="round" />
<polygon points="2002.0,690.0 2034.0,686.0 2034.0,692.0 2120.0,693.0 2209.0,695.0 2209.0,699.0 2120.0,701.5 2002.0,702.0" fill="#33c64f" />
<polygon points="2030.0,683.0 1990.0,684.0 1900.0,686.5 1862.0,689.7 1900.0,692.5 1990.0,698.0 2003.0,698.0 2006.0,695.0 2003.0,692.0 2030.0,687.0" fill="#0505ee" />
<polyline points="2106.0,33.0 2150.0,35.5 2060.0,40.0 2130.0,43.5 2004.0,48.5 2217.0,48.5 2090.0,54.0 2060.0,58.0 2144.0,66.0 2024.0,66.0 2060.0,72.0 2002.0,79.0 2060.0,85.0 2217.0,93.5 2220.0,100.0 2216.0,108.0 2200.0,111.0 2068.0,116.0 2052.0,119.5 2022.0,124.5 2026.0,128.0 2051.0,131.0 2051.0,146.0 2040.0,151.0 2022.0,160.4 2022.0,212.0 2013.0,216.5 2013.0,339.5 2003.0,344.0 2003.0,430.6 2013.0,435.0 2013.0,594.6 2022.0,600.7 2022.0,672.0 2033.0,680.0 2030.0,684.0" fill="none" stroke="#0505ee" stroke-width="5.6" stroke-linejoin="round" stroke-linecap="round" />
<polygon points="2104.0,31.5 2151.0,31.5 2151.0,38.0 2104.0,38.0" fill="#0505ee" />
<polygon points="2040.0,40.0 2070.0,37.0 2132.0,38.0 2132.0,50.5 2093.0,51.0 2093.0,63.0 2049.0,63.0 2040.0,50.0" fill="#0505ee" />
<polygon points="2023.0,62.5 2134.0,62.5 2145.0,66.5 2134.0,69.5 2023.0,69.0" fill="#0505ee" />
<polygon points="2001.0,76.0 2040.0,76.5 2060.0,83.0 2060.0,88.0 2001.0,84.0" fill="#0505ee" />
</g>
</g>
<g id="labels" filter="url(#bA)" stroke-linejoin="round">
<line x1="1994" y1="52.5" x2="1994" y2="703" stroke="#101010" stroke-width="6" stroke-linecap="round" stroke-dasharray="4.5 17.9"/>
<line x1="2049.8" y1="52.5" x2="2049.8" y2="703" stroke="#101010" stroke-width="6" stroke-linecap="round" stroke-dasharray="4.5 17.9"/>
<text x="162" y="162.0" font-size="39.8" text-anchor="end" fill="#080808" stroke="#080808" >200</text>
<text x="162" y="300.3" font-size="39.8" text-anchor="end" fill="#080808" stroke="#080808" >400</text>
<text x="162" y="438.6" font-size="39.8" text-anchor="end" fill="#080808" stroke="#080808" >600</text>
<text x="162" y="576.9" font-size="39.8" text-anchor="end" fill="#080808" stroke="#080808" >800</text>
<text x="162" y="715.2" font-size="39.8" text-anchor="end" fill="#080808" stroke="#080808" >1000</text>
<text x="174.5" y="748.3" font-size="39.5" text-anchor="middle" fill="#080808" stroke="#080808" >0</text>
<text x="245" y="748.3" font-size="39.5" text-anchor="middle" fill="#080808" stroke="#080808" >5</text>
<text x="317" y="748.3" font-size="39.5" text-anchor="middle" fill="#080808" stroke="#080808" >10</text>
<text x="369.3" y="748.3" font-size="39.5" text-anchor="middle" fill="#080808" stroke="#080808" >15</text>
<text x="426.3" y="748.3" font-size="39.5" text-anchor="middle" fill="#080808" stroke="#080808" >60</text>
<text x="620.5" y="748.3" font-size="39.5" text-anchor="middle" fill="#080808" stroke="#080808" >80</text>
<text x="692.5" y="749.0" font-size="39.5" text-anchor="middle" fill="#080808" stroke="#080808" >0</text>
<text x="783.5" y="749.0" font-size="39.5" text-anchor="middle" fill="#080808" stroke="#080808" >0.2</text>
<text x="874.5" y="749.0" font-size="39.5" text-anchor="middle" fill="#080808" stroke="#080808" >0.4</text>
<text x="965.5" y="749.0" font-size="39.5" text-anchor="middle" fill="#080808" stroke="#080808" >0.6</text>
<text x="1056.5" y="749.0" font-size="39.5" text-anchor="middle" fill="#080808" stroke="#080808" >0.8</text>
<text x="1146.5" y="749.0" font-size="39.5" text-anchor="middle" fill="#080808" stroke="#080808" >1</text>
<text x="1247.0" y="749.0" font-size="39.5" text-anchor="middle" fill="#080808" stroke="#080808" >0.7</text>
<text x="1336.7" y="749.0" font-size="39.5" text-anchor="middle" fill="#080808" stroke="#080808" >0.75</text>
<text x="1426.4" y="749.0" font-size="39.5" text-anchor="middle" fill="#080808" stroke="#080808" >0.8</text>
<text x="1516.1" y="749.0" font-size="39.5" text-anchor="middle" fill="#080808" stroke="#080808" >0.85</text>
<text x="1605.8" y="749.0" font-size="39.5" text-anchor="middle" fill="#080808" stroke="#080808" >0.9</text>
<text x="1695.5" y="749.0" font-size="39.5" text-anchor="middle" fill="#080808" stroke="#080808" >0.95</text>
<text x="1771.5" y="751.3" font-size="39.5" text-anchor="middle" fill="#080808" stroke="#080808" >-24</text>
<text x="1825.8" y="751.3" font-size="39.5" text-anchor="middle" fill="#080808" stroke="#080808" >-18</text>
<text x="1881.1" y="751.3" font-size="39.5" text-anchor="middle" fill="#080808" stroke="#080808" >-12</text>
<text x="1936.1000000000001" y="751.3" font-size="39.5" text-anchor="middle" fill="#080808" stroke="#080808" >-6</text>
<text x="1993.7" y="751.3" font-size="39.5" text-anchor="middle" fill="#080808" stroke="#080808" >0</text>
<text x="2049.5" y="751.3" font-size="39.5" text-anchor="middle" fill="#080808" stroke="#080808" >6</text>
<text x="2105.3" y="751.3" font-size="39.5" text-anchor="middle" fill="#080808" stroke="#080808" >12</text>
<text x="2161.1" y="751.3" font-size="39.5" text-anchor="middle" fill="#080808" stroke="#080808" >18</text>
<text x="2215.9" y="751.3" font-size="39.5" text-anchor="middle" fill="#080808" stroke="#080808" >24</text>
<text x="398.3" y="800.2" font-size="46.6" text-anchor="middle" fill="#080808" stroke="#080808" >EOF Mode</text>
<text x="921" y="800.6" font-size="47" text-anchor="middle" fill="#080808" stroke="#080808" >Frequency (1/Month)</text>
<text x="1472" y="800.8" font-size="47" text-anchor="middle" fill="#080808" stroke="#080808" >Abs(Correlation)</text>
<text x="1993.5" y="802.3" font-size="47" text-anchor="middle" fill="#080808" stroke="#080808" >Lead/Lag (Month)</text>
<text transform="translate(56.5,365) rotate(-90)" font-size="47" text-anchor="middle" fill="#080808" stroke="#080808">Pressure (hpa)</text>
<text x="577" y="355.3" font-size="49" text-anchor="middle" fill="#080808" stroke="#080808" >(a)</text>
<text x="1095" y="355.3" font-size="49" text-anchor="middle" fill="#080808" stroke="#080808" >(b)</text>
<text x="1652.3" y="355.3" font-size="49" text-anchor="middle" fill="#080808" stroke="#080808" >(c)</text>
<text x="2173.3" y="357.5" font-size="49" text-anchor="middle" fill="#080808" stroke="#080808" >(d)</text>
<line x1="585.0" y1="886.8" x2="656.2" y2="886.8" stroke="#9a1fd0" stroke-width="5.6" stroke-linecap="round"/>
<text x="667.7" y="902.6999999999999" font-size="46.3" text-anchor="start" fill="#9a1fd0" stroke="#9a1fd0" >G25</text>
<line x1="826.3" y1="886.8" x2="897.5" y2="886.8" stroke="#ff1212" stroke-width="5.6" stroke-linecap="round"/>
<text x="909.0" y="902.6999999999999" font-size="46.3" text-anchor="start" fill="#ff1212" stroke="#ff1212" >G30</text>
<line x1="1087.5" y1="886.8" x2="1158.7" y2="886.8" stroke="#3ac03a" stroke-width="5.6" stroke-linecap="round"/>
<text x="1170.2" y="902.6999999999999" font-size="46.3" text-anchor="start" fill="#3ac03a" stroke="#3ac03a" >G40</text>
<line x1="1351.3" y1="886.8" x2="1422.5" y2="886.8" stroke="#3fc3a3" stroke-width="5.6" stroke-linecap="round"/>
<text x="1434.0" y="902.6999999999999" font-size="46.3" text-anchor="start" fill="#9fcfae" stroke="#9fcfae" >G50</text>
<line x1="1605.0" y1="886.8" x2="1676.2" y2="886.8" stroke="#08ee08" stroke-width="5.6" stroke-linecap="round"/>
<text x="1687.7" y="902.6999999999999" font-size="46.3" text-anchor="start" fill="#08ee08" stroke="#08ee08" >G60</text>
<line x1="826.3" y1="944.3" x2="897.5" y2="944.3" stroke="#2fc76c" stroke-width="5.6" stroke-linecap="round"/>
<text x="909.0" y="960.1999999999999" font-size="46.3" text-anchor="start" fill="#2fc76c" stroke="#2fc76c" >G35</text>
<line x1="1087.5" y1="944.3" x2="1158.7" y2="944.3" stroke="#7afbd6" stroke-width="5.6" stroke-linecap="round"/>
<text x="1170.2" y="960.1999999999999" font-size="46.3" text-anchor="start" fill="#7afbd6" stroke="#7afbd6" >G45</text>
<line x1="1351.3" y1="944.3" x2="1422.5" y2="944.3" stroke="#9ab99a" stroke-width="5.6" stroke-linecap="round"/>
<text x="1434.0" y="960.1999999999999" font-size="46.3" text-anchor="start" fill="#d2fbd9" stroke="#d2fbd9" >G55</text>
<line x1="1605.0" y1="944.3" x2="1676.2" y2="944.3" stroke="#0505ee" stroke-width="5.6" stroke-linecap="round"/>
<text x="1687.7" y="960.1999999999999" font-size="46.3" text-anchor="start" fill="#0505ee" stroke="#0505ee" >G65</text>
</g>
</svg>
</body>
</html>
